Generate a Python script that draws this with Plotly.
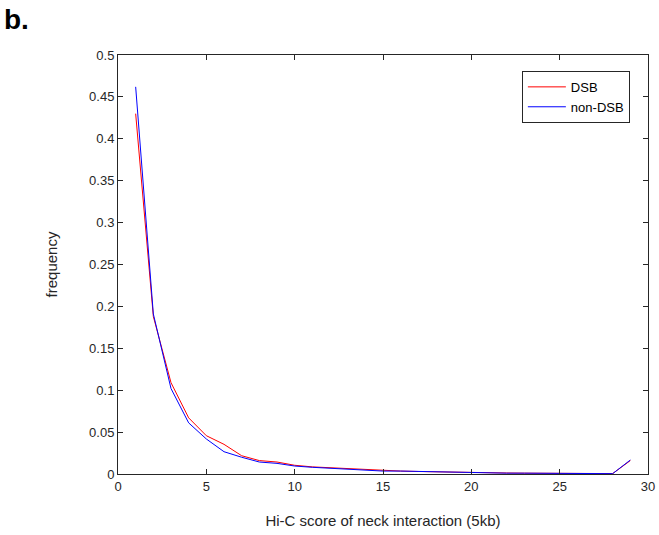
import plotly.graph_objects as go

scores = list(range(1, 30))
dsb = [0.430, 0.188, 0.109, 0.067, 0.0457, 0.0354, 0.0218, 0.016, 0.0143, 0.0104,
       0.0085, 0.0075, 0.006, 0.005, 0.004, 0.0035, 0.003, 0.0025, 0.0022, 0.002,
       0.0015, 0.0012, 0.001, 0.001, 0.0008, 0.0008, 0.0006, 0.0005, 0.0160]
non_dsb = [0.462, 0.191, 0.102, 0.061, 0.0418, 0.0266, 0.020, 0.0143, 0.0127, 0.0095,
           0.008, 0.007, 0.0055, 0.0045, 0.0035, 0.0035, 0.003, 0.0025, 0.002, 0.0018,
           0.0012, 0.001, 0.001, 0.0008, 0.0008, 0.0006, 0.0005, 0.0004, 0.0167]

x_ticks = [0, 5, 10, 15, 20, 25, 30]
y_ticks = [0, 0.05, 0.1, 0.15, 0.2, 0.25, 0.3, 0.35, 0.4, 0.45, 0.5]
y_tick_text = ["0", "0.05", "0.1", "0.15", "0.2", "0.25", "0.3", "0.35", "0.4", "0.45", "0.5"]

fig = go.Figure()
fig.add_trace(go.Scatter(x=scores, y=dsb, mode="lines", name="DSB",
                         line=dict(color="#ff0000", width=1)))
fig.add_trace(go.Scatter(x=scores, y=non_dsb, mode="lines", name="non-DSB",
                         line=dict(color="#0000ff", width=1)))

axis_common = dict(showline=True, linecolor="#262626", linewidth=1, mirror="ticks",
                   ticks="inside", ticklen=5, tickcolor="#262626", showgrid=False,
                   zeroline=False, automargin=False,
                   tickfont=dict(family="Liberation Sans, Arial", size=13, color="#262626"))

fig.update_layout(
    width=659, height=535,
    margin=dict(l=118, r=11, t=55, b=61),
    paper_bgcolor="white", plot_bgcolor="white",
    font=dict(family="Liberation Sans, Arial", size=13, color="#262626"),
    xaxis=dict(range=[0, 30], tickvals=x_ticks,
               title=dict(text="Hi-C score of neck interaction (5kb)", standoff=22,
                          font=dict(size=15, color="#262626")),
               **axis_common),
    yaxis=dict(range=[0, 0.5], tickvals=y_ticks, ticktext=y_tick_text,
               title=dict(text="frequency", standoff=27, font=dict(size=15, color="#262626")),
               **axis_common),
    legend=dict(x=0.762, y=0.962, xanchor="left", yanchor="top",
                bordercolor="#262626", borderwidth=1, bgcolor="white",
                itemwidth=38,
                font=dict(size=13, color="#000000"), tracegroupgap=0),
    showlegend=True,
    annotations=[dict(text="<b>b.</b>", x=0.0, y=1.0, xref="paper", yref="paper",
                      xanchor="left", yanchor="top", showarrow=False,
                      font=dict(size=28, color="#000000", family="Liberation Sans, Arial"),
                      xshift=-116, yshift=53)],
)

fig.write_html("out.html", config={"displayModeBar": False},
               post_script="document.body.style.margin='0';document.body.style.padding='0';")
